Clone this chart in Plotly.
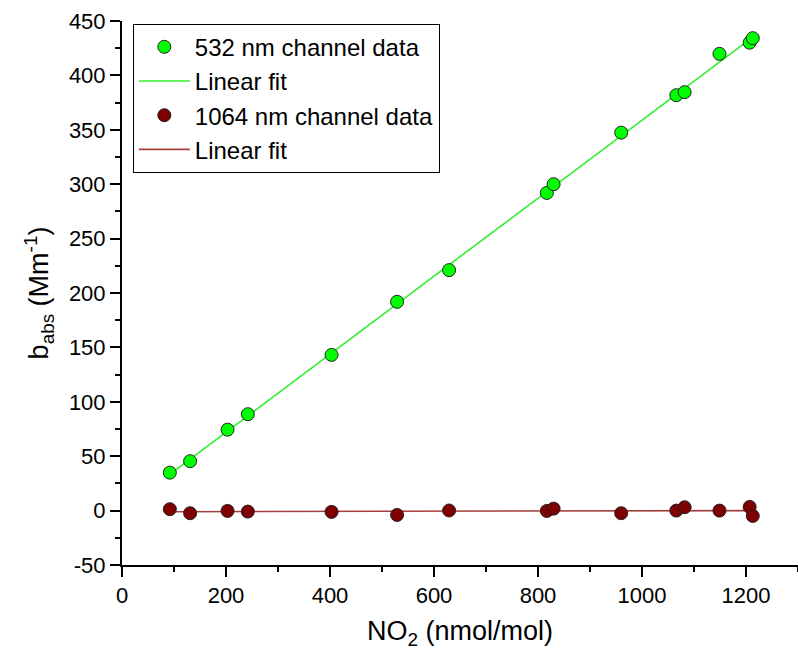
import numpy as np
import plotly.graph_objects as go

# NO2 mixing ratio (nmol/mol)
no2 = [92, 131, 203, 242, 403, 529, 629, 817, 830, 960, 1066, 1082, 1149, 1207, 1213]
# absorption coefficient, 532 nm channel (Mm^-1)
babs_532 = [34.9, 45.4, 74.4, 88.6, 143.1, 191.9, 221.0, 292.0, 300.0, 347.4, 381.8, 384.6, 419.8, 430.1, 434.2]
# absorption coefficient, 1064 nm channel (Mm^-1)
babs_1064 = [1.3, -2.4, -0.3, -0.9, -1.2, -4.0, 0.1, -0.3, 1.8, -2.4, 0.0, 3.1, 0.0, 3.4, -4.9]

# axis tick values and labels
x_ticks = [0, 200, 400, 600, 800, 1000, 1200]
y_ticks = [-50, 0, 50, 100, 150, 200, 250, 300, 350, 400, 450]
y_tick_labels = ["-50", "0", "50", "100", "150", "200", "250", "300", "350", "400", "450"]

x = np.array(no2, dtype=float)
xfit = np.array([x.min(), x.max()])
p532 = np.polyfit(x, babs_532, 1)
p1064 = np.polyfit(x, babs_1064, 1)

GREEN = "#00ff00"
GREEN_LINE = "#33ee33"
BROWN = "#7f0000"
BROWN_LINE = "#a33f3f"
FONT = "Liberation Sans, Arial, sans-serif"

fig = go.Figure()

# fit lines underneath the data points
fig.add_trace(go.Scatter(x=xfit, y=np.polyval(p532, xfit), mode="lines",
                         name="Linear fit", line=dict(color=GREEN_LINE, width=1.6),
                         legendrank=2))
fig.add_trace(go.Scatter(x=xfit, y=np.polyval(p1064, xfit), mode="lines",
                         name="Linear fit", line=dict(color=BROWN_LINE, width=1.6),
                         legendrank=4))
fig.add_trace(go.Scatter(x=no2, y=babs_532, mode="markers", name="532 nm channel data",
                         marker=dict(color=GREEN, size=13, line=dict(color="#222222", width=1)),
                         legendrank=1))
fig.add_trace(go.Scatter(x=no2, y=babs_1064, mode="markers", name="1064 nm channel data",
                         marker=dict(color=BROWN, size=13, line=dict(color="#222222", width=1)),
                         legendrank=3))

axis_common = dict(
    showgrid=False, zeroline=False, showline=True, linecolor="black", linewidth=2,
    ticks="outside", ticklen=10, tickwidth=2, tickcolor="black",
    tickfont=dict(family=FONT, size=22, color="black"),
)

fig.update_xaxes(
    range=[0, 1300], tickvals=x_ticks, ticktext=[str(v) for v in x_ticks],
    title=dict(text="NO<sub>2</sub> (nmol/mol)", font=dict(family=FONT, size=27, color="black"),
               standoff=14),
    minor=dict(dtick=100, tick0=0, ticks="outside", ticklen=5, tickwidth=2, tickcolor="black"),
    **axis_common,
)
fig.update_yaxes(
    range=[-50, 450], tickvals=y_ticks, ticktext=y_tick_labels,
    title=dict(text="b<sub>abs</sub> (Mm<sup>-1</sup>)", font=dict(family=FONT, size=27, color="black"),
               standoff=12),
    minor=dict(dtick=25, tick0=0, ticks="outside", ticklen=5, tickwidth=2, tickcolor="black"),
    **axis_common,
)

fig.update_layout(
    width=798, height=655,
    margin=dict(l=122, r=0, t=21, b=90),
    paper_bgcolor="white", plot_bgcolor="white",
    font=dict(family=FONT, color="black"),
    legend=dict(x=0.016, y=0.995, xanchor="left", yanchor="top",
                bgcolor="white", bordercolor="black", borderwidth=1,
                font=dict(family=FONT, size=24, color="black"),
                itemwidth=51, tracegroupgap=0),
)

fig.write_html("out.html")
